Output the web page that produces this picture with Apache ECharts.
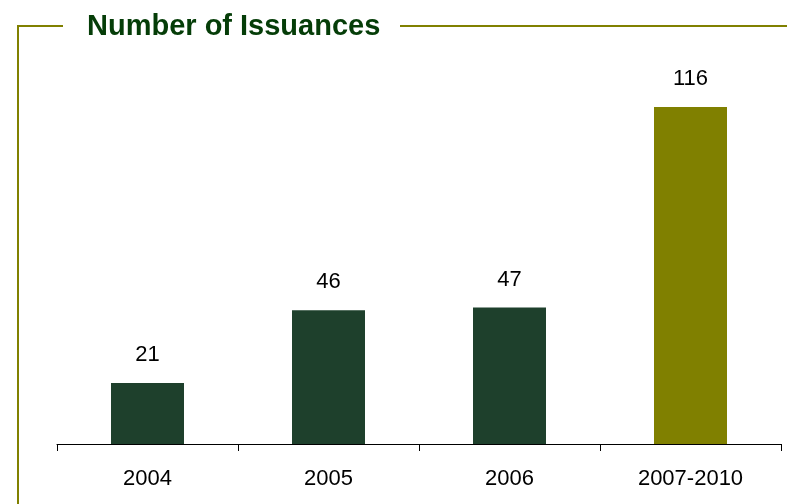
<!DOCTYPE html>
<html>
<head>
<meta charset="utf-8">
<script src="https://cdn.jsdelivr.net/npm/echarts@6/dist/echarts.min.js"></script>
<style>
html,body{margin:0;padding:0;background:#fff;}
#chart{width:787px;height:504px;}
</style>
</head>
<body>
<div id="chart"></div>
<script>
var categories = ['2004', '2005', '2006', '2007-2010'];
var issuances = [21, 46, 47, 116];
var barColors = ['#1e402c', '#1e402c', '#1e402c', '#808000'];
var titleText = 'Number of Issuances';

var chart = echarts.init(document.getElementById('chart'), null, {renderer: 'canvas'});
var option = {
  backgroundColor: '#ffffff',
  animation: false,
  title: {
    text: titleText,
    left: 82,
    top: 7,
    textStyle: {
      fontFamily: 'Liberation Sans, Arial, sans-serif',
      fontWeight: 'bold',
      fontSize: 29,
      color: '#053d08'
    }
  },
  graphic: [
    {type: 'line', shape: {x1: 18, y1: 26, x2: 63, y2: 26}, style: {stroke: '#808000', lineWidth: 2}},
    {type: 'line', shape: {x1: 18, y1: 25, x2: 18, y2: 504}, style: {stroke: '#808000', lineWidth: 2}},
    {type: 'line', shape: {x1: 400, y1: 26, x2: 787, y2: 26}, style: {stroke: '#808000', lineWidth: 2}}
  ],
  grid: {left: 57, right: 6, top: 95.4, bottom: 60, containLabel: false},
  xAxis: {
    type: 'category',
    data: categories,
    axisLine: {lineStyle: {color: '#000', width: 1}},
    axisTick: {show: true, length: 7, lineStyle: {color: '#000'}},
    axisLabel: {
      margin: 24,
      fontFamily: 'Liberation Sans, Arial, sans-serif',
      fontSize: 22,
      color: '#000'
    }
  },
  yAxis: {
    type: 'value',
    min: 0,
    max: 120,
    show: false,
    splitLine: {show: false}
  },
  series: [{
    type: 'bar',
    data: issuances.map(function (v, i) {
      return {value: v, itemStyle: {color: barColors[i]}};
    }),
    barWidth: 73,
    label: {
      show: true,
      position: 'top',
      distance: 17,
      fontFamily: 'Liberation Sans, Arial, sans-serif',
      fontSize: 22,
      color: '#000'
    }
  }]
};
chart.setOption(option);
</script>
</body>
</html>
